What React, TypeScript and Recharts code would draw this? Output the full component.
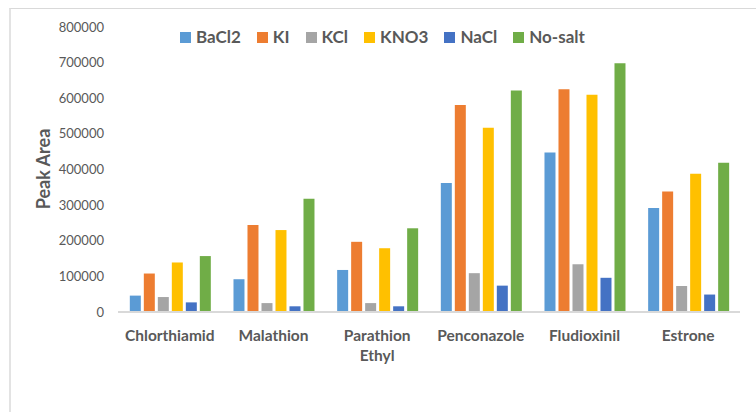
import React from "react";
import { BarChart, Bar, XAxis, YAxis, Text } from "recharts";

const compounds = ["Chlorthiamid", "Malathion", "Parathion Ethyl", "Penconazole", "Fludioxinil", "Estrone"];
const bacl2 = [46000, 92000, 118000, 362000, 448000, 292000];
const ki = [108000, 244000, 197000, 581000, 625000, 338000];
const kcl = [42000, 25000, 25000, 109000, 134000, 73000];
const kno3 = [139000, 230000, 179000, 517000, 610000, 388000];
const nacl = [27000, 16000, 16000, 74000, 96000, 49000];
const noSalt = [157000, 318000, 235000, 622000, 698000, 419000];
const yTicks = [0, 100000, 200000, 300000, 400000, 500000, 600000, 700000, 800000];

const seriesList = [
  { key: "BaCl2", values: bacl2, color: "#5B9BD5" },
  { key: "KI", values: ki, color: "#ED7D31" },
  { key: "KCl", values: kcl, color: "#A5A5A5" },
  { key: "KNO3", values: kno3, color: "#FFC000" },
  { key: "NaCl", values: nacl, color: "#4472C4" },
  { key: "No-salt", values: noSalt, color: "#70AD47" },
];

const rows = compounds.map((name, i) => {
  const row: Record<string, string | number> = { name };
  seriesList.forEach((s) => {
    row[s.key] = s.values[i];
  });
  return row;
});

const FONT = "Lato, 'Open Sans', sans-serif";
const TEXT = "#595959";

const CategoryTick = (props: any) => {
  const { x, y, payload } = props;
  return (
    <Text
      x={x}
      y={y}
      width={100}
      textAnchor="middle"
      verticalAnchor="start"
      lineHeight={20}
      fill={TEXT}
      fontFamily={FONT}
      fontWeight="bold"
      fontSize={15.5}
    >
      {payload.value}
    </Text>
  );
};

const LegendBox = () => (
  <div
    style={{
      position: "absolute",
      left: 180,
      top: 27,
      display: "flex",
      alignItems: "center",
      fontFamily: FONT,
      fontWeight: "bold",
      fontSize: 17,
      lineHeight: "20px",
      color: TEXT,
      whiteSpace: "nowrap",
    }}
  >
    {seriesList.map((s) => (
      <div key={s.key} style={{ display: "flex", alignItems: "center", marginRight: 16 }}>
        <span style={{ display: "inline-block", width: 11, height: 11, background: s.color, marginRight: 5 }} />
        <span>{s.key}</span>
      </div>
    ))}
  </div>
);

const AxisTitle = () => (
  <text
    x={43}
    y={169}
    transform="rotate(-90 43 169)"
    textAnchor="middle"
    dominantBaseline="central"
    fill={TEXT}
    fontFamily={FONT}
    fontWeight="bold"
    fontSize={18}
  >
    Peak Area
  </text>
);

export default function App() {
  return (
    <div style={{ position: "absolute", left: 0, top: 0, width: 756, height: 412, background: "#fff", overflow: "hidden" }}>
      <div
        style={{
          position: "absolute",
          left: 9,
          top: 8,
          width: 760,
          height: 420,
          borderTop: "1px solid #d9d9d9",
          borderLeft: "2px solid #e3e3e3",
        }}
      />
      <BarChart
        width={756}
        height={412}
        data={rows}
        margin={{ top: 27, right: 16, bottom: 70, left: 0 }}
        barCategoryGap="11.4%"
        barGap={3}
        style={{ position: "absolute", left: 0, top: 0 }}
      >
        <XAxis
          dataKey="name"
          tick={<CategoryTick />}
          tickLine={false}
          axisLine={{ stroke: "#d9d9d9", strokeWidth: 2 }}
          tickMargin={12}
          interval={0}
        />
        <YAxis
          width={118}
          domain={[0, 800000]}
          ticks={yTicks}
          tickLine={false}
          axisLine={false}
          tickSize={0}
          tickMargin={14}
          tick={{ fill: TEXT, fontFamily: FONT, fontSize: 13 }}
          label={{ content: () => <AxisTitle /> }}
        />
        {seriesList.map((s) => (
          <Bar key={s.key} dataKey={s.key} fill={s.color} isAnimationActive={false} />
        ))}
      </BarChart>
      <LegendBox />
    </div>
  );
}
